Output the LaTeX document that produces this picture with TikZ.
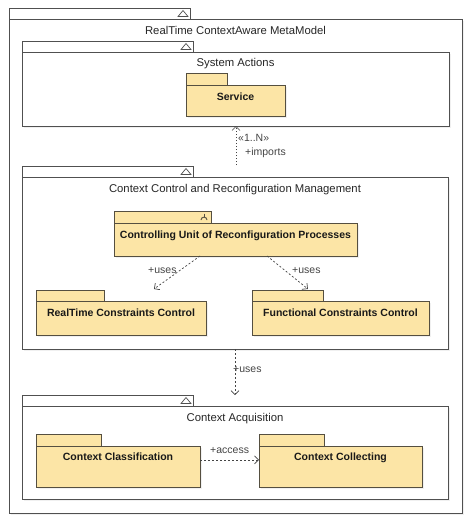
\documentclass[tikz,border=0pt]{standalone}
\usepackage{fontspec}
\setmainfont{Liberation Sans}
\usetikzlibrary{arrows.meta,calc,shadows}
\definecolor{pkgfill}{HTML}{FCE5A6}
\definecolor{pkgline}{HTML}{554F40}
\definecolor{frameline}{HTML}{505050}
\definecolor{lbl}{HTML}{444444}
\tikzset{
  at nw/.style={anchor=north west, inner sep=0pt, outer sep=0pt},
  framebox/.style={at nw, draw=frameline, line width=0.9pt, fill=white,
    drop shadow={shadow xshift=2pt, shadow yshift=-2pt, fill=black, opacity=0.06}},
  frametab/.style={at nw, draw=frameline, line width=0.9pt, fill=white},
  yelbox/.style={at nw, draw=pkgline, line width=1pt, fill=pkgfill,
    drop shadow={shadow xshift=2pt, shadow yshift=-2pt, fill=black, opacity=0.06}},
  yeltab/.style={at nw, draw=pkgline, line width=1pt, fill=pkgfill},
  ttl/.style={anchor=base, inner sep=0pt, font=\fontsize{11.3}{13}\selectfont, text=black!85},
  btl/.style={anchor=base, inner sep=0pt, font=\bfseries\fontsize{10.5}{12}\selectfont, text=black!90},
  lab/.style={anchor=base west, inner sep=0pt, font=\fontsize{10.5}{12}\selectfont, text=lbl},
  dep/.style={draw=lbl, line width=0.7pt, dash pattern=on 2pt off 2pt,
    -{Straight Barb[length=4pt,width=8pt]}},
  pics/tabtri/.style={code={\draw[frameline, line width=0.7pt] (-12,3) -- (-7,-3) -- (-2,3) -- cycle;}},
  pics/forkicon/.style={code={
    \draw[pkgline, line width=0.9pt] (-7,-3.5) -- (-7,-0.5);
    \draw[pkgline, line width=0.9pt] (-10,3) .. controls (-10,-0.8) and (-4,-0.8) .. (-4,3);}}
}
\begin{document}
\begin{tikzpicture}[x=1pt,y=-1pt]
\useasboundingbox (0,0) rectangle (474,523);
% outer
\node[frametab, minimum width=181pt, minimum height=11pt] (outt) at (9,8) {};
\pic at (outt.east) {tabtri};
\node[framebox, minimum width=453pt, minimum height=494pt] (outb) at (9,19) {};
\node[ttl] (outl) at ($(outb.north)+(0,15)$) {RealTime ContextAware MetaModel};
% System Actions
\node[frametab, minimum width=171pt, minimum height=11pt] (sat) at (22,41) {};
\pic at (sat.east) {tabtri};
\node[framebox, minimum width=427pt, minimum height=74pt] (sab) at (22,52) {};
\node[ttl] (sal) at ($(sab.north)+(0,14)$) {System Actions};
\node[yeltab, minimum width=41pt, minimum height=12pt] (svt) at (186,73) {};
\node[yelbox, minimum width=99pt, minimum height=31pt] (svb) at (186,85) {};
\node[btl] (svl) at ($(svb.north)+(0,15)$) {Service};
% Context Control
\node[frametab, minimum width=171pt, minimum height=11pt] (cct) at (22,166) {};
\pic at (cct.east) {tabtri};
\node[framebox, minimum width=426pt, minimum height=172pt] (ccb) at (22,177) {};
\node[ttl] (ccl) at ($(ccb.north)+(0,15)$) {Context Control and Reconfiguration Management};
\node[yeltab, minimum width=97pt, minimum height=12pt] (cut) at (114,211) {};
\pic at (cut.east) {forkicon};
\node[yelbox, minimum width=243pt, minimum height=33pt] (cub) at (114,223) {};
\node[btl] (cul) at ($(cub.north)+(0,15)$) {Controlling Unit of Reconfiguration Processes};
\node[yeltab, minimum width=68pt, minimum height=11pt] (rtt) at (36,290) {};
\node[yelbox, minimum width=170pt, minimum height=34pt] (rtb) at (36,301) {};
\node[btl] (rtl) at ($(rtb.north)+(0,15)$) {RealTime Constraints Control};
\node[yeltab, minimum width=71pt, minimum height=11pt] (fct) at (252,290) {};
\node[yelbox, minimum width=177pt, minimum height=34pt] (fcb) at (252,301) {};
\node[btl] (fcl) at ($(fcb.north)+(0,15)$) {Functional Constraints Control};
% Context Acquisition
\node[frametab, minimum width=171pt, minimum height=11pt] (cat) at (22,395) {};
\pic at (cat.east) {tabtri};
\node[framebox, minimum width=426pt, minimum height=93pt] (cab) at (22,406) {};
\node[ttl] (cal) at ($(cab.north)+(0,15)$) {Context Acquisition};
\node[yeltab, minimum width=65pt, minimum height=12pt] (cclt) at (36,434) {};
\node[yelbox, minimum width=164pt, minimum height=41pt] (cclb) at (36,446) {};
\node[btl] (ccll) at ($(cclb.north)+(0,14)$) {Context Classification};
\node[yeltab, minimum width=65pt, minimum height=12pt] (ccot) at (259,434) {};
\node[yelbox, minimum width=163pt, minimum height=41pt] (ccob) at (259,446) {};
\node[btl] (ccol) at ($(ccob.north)+(0,14)$) {Context Collecting};
% connectors
\coordinate (impS) at (236,165);
\draw[dep, dash pattern=on 1.5pt off 1.5pt] (impS) -- (impS |- sab.south);
\node[lab] (impl1) at (238,141) {«1..N»};
\node[lab] (impl2) at (245,155) {+imports};
\coordinate (ulS) at ($(cub.south west)!0.354!(cub.south east)$);
\coordinate (ulE) at ($(rtb.north west)!0.694!(rtb.north east)+(0,-12)$);
\draw[dep] (ulS) -- (ulE);
\node[lab] (ull) at (148,273) {+uses};
\coordinate (urS) at ($(cub.south west)!0.63!(cub.south east)$);
\coordinate (urE) at ($(fcb.north west)!0.316!(fcb.north east)+(0,-12)$);
\draw[dep] (urS) -- (urE);
\node[lab] (url) at (292,273) {+uses};
\draw[dep] (ccb.south) -- (ccb.south |- cat.north);
\node[lab] (udl) at (233,372) {+uses};
\coordinate (acS) at ($(cclb.north east)!0.34!(cclb.south east)$);
\draw[dep] (acS) -- (acS -| ccob.west);
\node[lab] (acl) at (210,453) {+access};
\end{tikzpicture}
\end{document}
